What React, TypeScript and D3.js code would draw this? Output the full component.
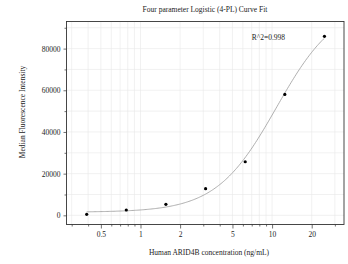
import { useEffect, useRef } from "react";
import * as d3 from "d3";

// standards (ng/mL) and measured MFI
const conc = [0.39, 0.78, 1.56, 3.125, 6.25, 12.5, 25];
const mfi = [500, 2550, 5300, 12800, 25700, 58000, 85900];

// 4PL fit parameters: y = D + (A - D) / (1 + (x / C)^B)
const fitA = 1500;
const fitB = 1.9;
const fitC = 10.8;
const fitD = 102000;
const rSquared = "R^2=0.998";

const xMajor = [0.5, 1, 2, 5, 10, 20];
const xMinor = [0.3, 0.4, 0.6, 0.7, 0.8, 0.9, 3, 4, 6, 7, 8, 9, 30];
const yMajor = [0, 20000, 40000, 60000, 80000];
const yMinor = [10000, 30000, 50000, 70000, 90000];

const title = "Four parameter Logistic (4-PL) Curve Fit";
const xTitle = "Human ARID4B concentration (ng/mL)";
const yTitle = "Median Fluorescence Intensity";

const FONT = "'Liberation Serif', 'Times New Roman', serif";

export default function App() {
  const svgRef = useRef<SVGSVGElement>(null);

  useEffect(() => {
    const el = svgRef.current;
    if (!el) return;
    d3.select(el).selectAll("*").remove();

    const W = 348;
    const H = 264;
    const m = { top: 21.5, right: 4, bottom: 39.5, left: 66.5 };
    const iw = W - m.left - m.right;
    const ih = H - m.top - m.bottom;

    const svg = d3.select(el).attr("viewBox", `0 0 ${W} ${H}`);
    svg.append("rect").attr("width", W).attr("height", H).attr("fill", "#fff");

    const g = svg.append("g").attr("transform", `translate(${m.left},${m.top})`);

    const xs = d3.scaleLog().domain([0.274, 35.2]).range([0, iw]);
    const ys = d3.scaleLinear().domain([-4400, 93000]).range([ih, 0]);

    // grid
    g.append("g")
      .selectAll("line")
      .data([...xMajor, ...xMinor])
      .enter()
      .append("line")
      .attr("x1", (d) => xs(d))
      .attr("x2", (d) => xs(d))
      .attr("y1", 0)
      .attr("y2", ih)
      .attr("stroke", "#e8e8e8")
      .attr("stroke-width", 0.6);
    g.append("g")
      .selectAll("line")
      .data([...yMajor, ...yMinor])
      .enter()
      .append("line")
      .attr("x1", 0)
      .attr("x2", iw)
      .attr("y1", (d) => ys(d))
      .attr("y2", (d) => ys(d))
      .attr("stroke", "#e8e8e8")
      .attr("stroke-width", 0.6);

    const axisStyle = (sel: any) => {
      sel.select(".domain").remove();
      sel.selectAll(".tick line").attr("stroke", "#333").attr("stroke-width", 0.7);
      sel.selectAll(".tick text")
        .attr("fill", "#222")
        .style("font-size", "7.5px")
        .style("font-family", FONT);
    };

    // x axis
    g.append("g")
      .attr("transform", `translate(0,${ih})`)
      .call(
        d3.axisBottom(xs).tickValues(xMajor).tickSize(4).tickPadding(3)
          .tickFormat((d) => String(d))
      )
      .call(axisStyle);
    g.append("g")
      .attr("transform", `translate(0,${ih})`)
      .call(d3.axisBottom(xs).tickValues(xMinor).tickSize(2).tickFormat(() => ""))
      .call(axisStyle);

    // y axis
    g.append("g")
      .call(
        d3.axisLeft(ys).tickValues(yMajor).tickSize(3).tickPadding(3)
          .tickFormat((d) => String(d))
      )
      .call(axisStyle);
    g.append("g")
      .call(d3.axisLeft(ys).tickValues(yMinor).tickSize(2).tickFormat(() => ""))
      .call(axisStyle);

    // frame
    g.append("rect")
      .attr("width", iw)
      .attr("height", ih)
      .attr("fill", "none")
      .attr("stroke", "#333")
      .attr("stroke-width", 0.9);

    // fitted curve
    const fit = (x: number) => fitD + (fitA - fitD) / (1 + Math.pow(x / fitC, fitB));
    const lo = Math.log(conc[0]);
    const hi = Math.log(conc[conc.length - 1]);
    const xsFit = d3.range(0, 201).map((i) => Math.exp(lo + (i / 200) * (hi - lo)));
    const line = d3
      .line<number>()
      .x((d) => xs(d))
      .y((d) => ys(fit(d)));
    g.append("path")
      .attr("d", line(xsFit))
      .attr("fill", "none")
      .attr("stroke", "#9a9a9a")
      .attr("stroke-width", 0.8);

    // points
    g.append("g")
      .selectAll("circle")
      .data(conc)
      .enter()
      .append("circle")
      .attr("cx", (d) => xs(d))
      .attr("cy", (_d, i) => ys(mfi[i]))
      .attr("r", 1.6)
      .attr("fill", "#000");

    g.append("text")
      .attr("x", xs(7.0))
      .attr("y", ys(84000))
      .style("font-size", "7.5px")
      .style("font-family", FONT)
      .attr("fill", "#222")
      .text(rSquared);

    // titles
    svg.append("text")
      .attr("x", 205)
      .attr("y", 12)
      .attr("text-anchor", "middle")
      .style("font-size", "7.5px")
      .style("font-family", FONT)
      .attr("fill", "#222")
      .text(title);
    svg.append("text")
      .attr("x", 209)
      .attr("y", 255)
      .attr("text-anchor", "middle")
      .style("font-size", "7.5px")
      .style("font-family", FONT)
      .attr("fill", "#222")
      .text(xTitle);
    svg.append("text")
      .attr("transform", `translate(22,112) rotate(-90)`)
      .attr("text-anchor", "middle")
      .attr("dy", "0.35em")
      .style("font-size", "7.5px")
      .style("font-family", FONT)
      .attr("fill", "#222")
      .text(yTitle);
  }, []);

  return (
    <svg
      ref={svgRef}
      width={348}
      height={264}
      style={{ position: "absolute", left: 0, top: 0, display: "block" }}
    />
  );
}
